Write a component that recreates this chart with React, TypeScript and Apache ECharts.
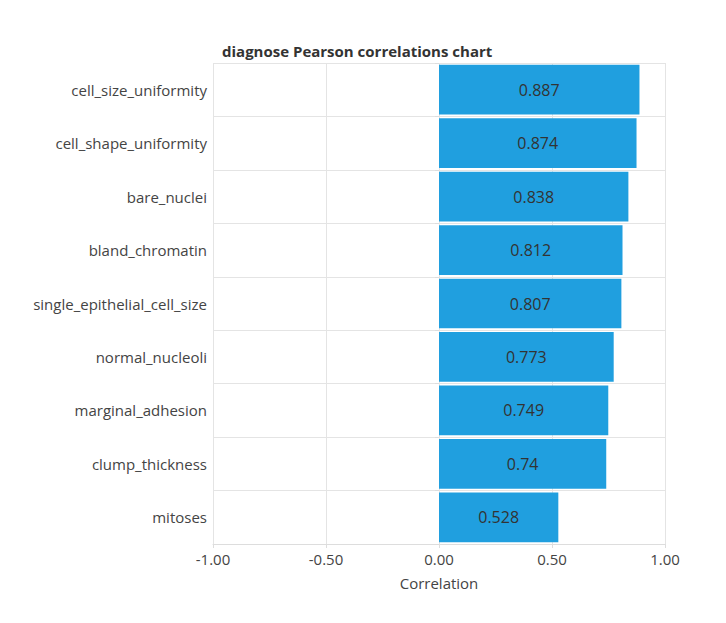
import React, { useRef, useEffect } from "react";
import * as echarts from "echarts";

const categories = [
  "cell_size_uniformity",
  "cell_shape_uniformity",
  "bare_nuclei",
  "bland_chromatin",
  "single_epithelial_cell_size",
  "normal_nucleoli",
  "marginal_adhesion",
  "clump_thickness",
  "mitoses",
];
const correlations = [0.887, 0.874, 0.838, 0.812, 0.807, 0.773, 0.749, 0.74, 0.528];
const axisMin = -1;
const axisMax = 1;
const axisStep = 0.5;

const FONT = "'Open Sans', sans-serif";

const App = function () {
  const chart = useRef<HTMLDivElement>(null);
  useEffect(() => {
    document.body.style.margin = "0";
    if (!chart.current) return;
    const myChart = echarts.init(chart.current, undefined, { renderer: "svg" });
    const option = {
      animation: false,
      textStyle: { fontFamily: FONT },
      title: {
        text: "diagnose Pearson correlations chart",
        left: 217,
        top: 38,
        textStyle: { fontSize: 15, fontWeight: "bold", color: "#333", fontFamily: FONT },
      },
      grid: { left: 213, right: 61, top: 63, bottom: 79 },
      xAxis: {
        type: "value",
        min: axisMin,
        max: axisMax,
        interval: axisStep,
        name: "Correlation",
        nameLocation: "middle",
        nameGap: 31,
        nameTextStyle: { fontSize: 15, color: "#444" },
        axisLine: { show: true, lineStyle: { color: "#ddd" } },
        axisTick: { show: true, length: 4, lineStyle: { color: "#ddd" } },
        axisLabel: {
          fontSize: 15,
          color: "#444",
          margin: 7,
          formatter: (v: number) => v.toFixed(2),
        },
        splitLine: { show: true, lineStyle: { color: "#e4e4e4" } },
      },
      yAxis: {
        type: "category",
        inverse: true,
        data: categories,
        axisLine: { show: false },
        axisTick: { show: true, length: 4, lineStyle: { color: "#ddd" } },
        axisLabel: { fontSize: 15, color: "#444", margin: 6 },
        splitLine: { show: true, lineStyle: { color: "#e4e4e4" } },
      },
      series: [
        {
          type: "bar",
          data: correlations,
          barCategoryGap: "7%",
          itemStyle: { color: "#209fdf" },
          label: {
            show: true,
            position: "inside",
            color: "#333",
            fontSize: 16,
          },
        },
      ],
    };
    myChart.setOption(option);
    return () => {
      myChart.dispose();
    };
  }, []);
  return <div ref={chart} style={{ width: 726, height: 623 }}></div>;
};

export default App;
